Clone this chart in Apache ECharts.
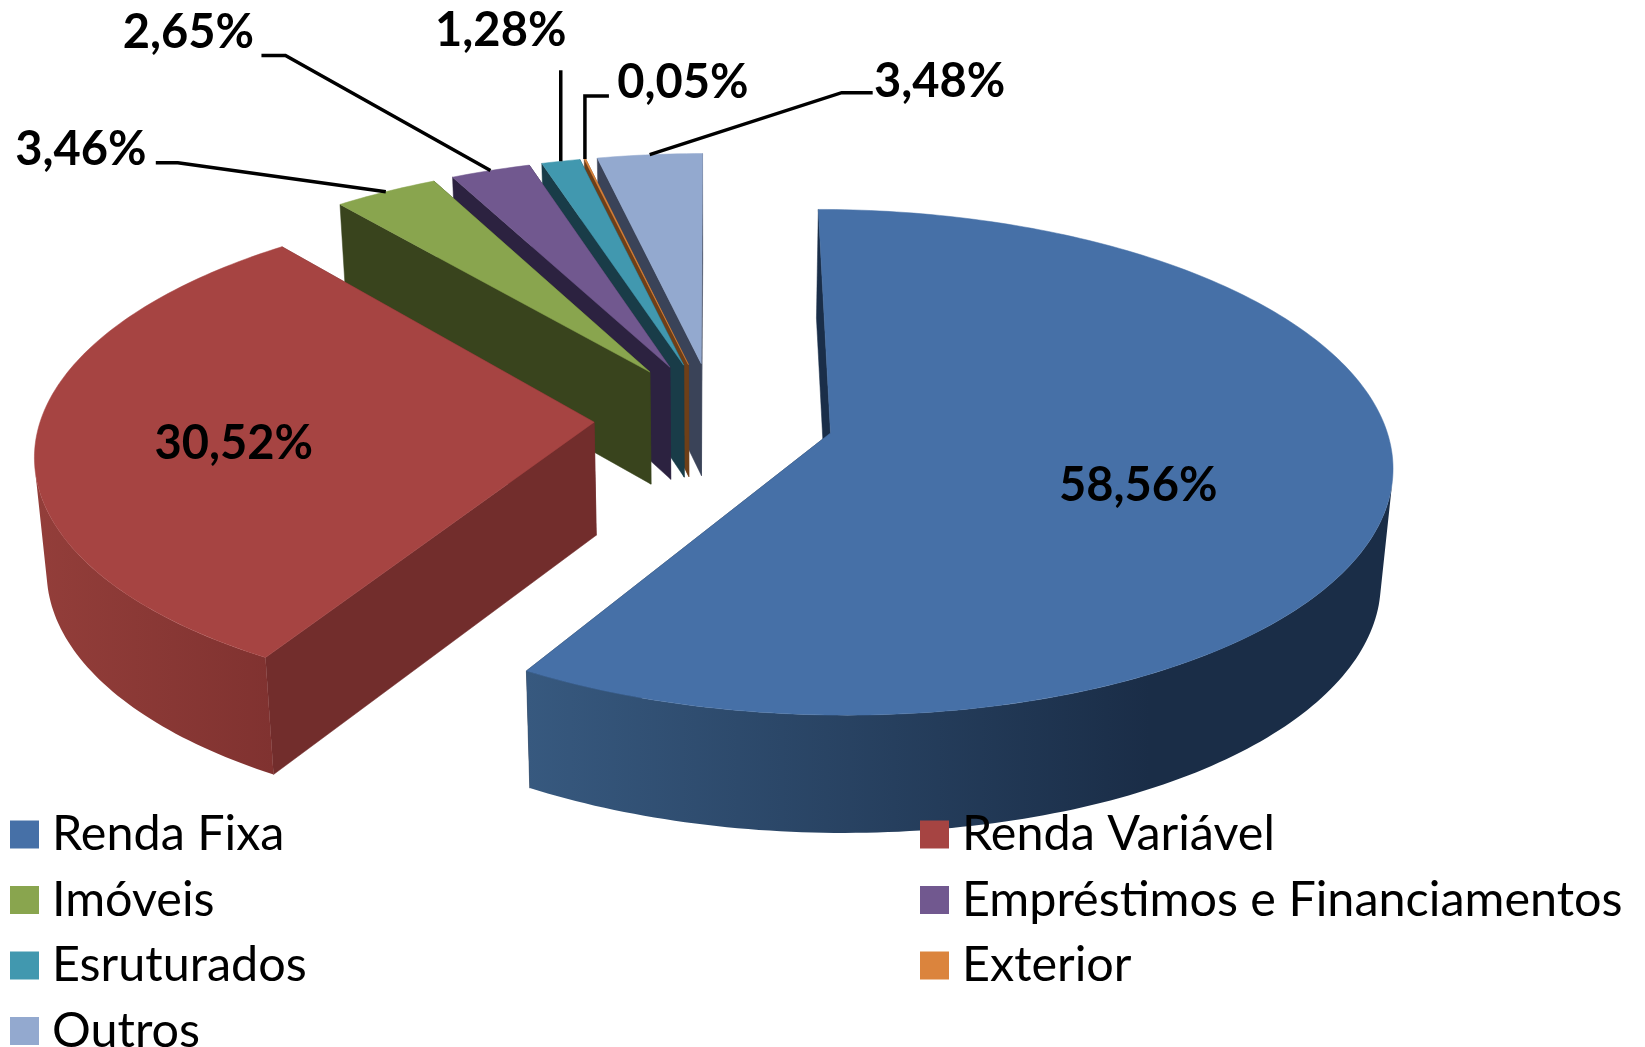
<!DOCTYPE html>
<html><head><meta charset="utf-8">
<style>html,body{margin:0;padding:0;background:#fff}#c{width:1645px;height:1047px}</style>
<script src="https://cdn.jsdelivr.net/npm/echarts@6/dist/echarts.min.js"></script>
</head><body><div id="c"></div>
<script>
const categories = ['Renda Fixa','Renda Variável','Imóveis','Empréstimos e Financiamentos','Esruturados','Exterior','Outros'];
const values = [58.56,30.52,3.46,2.65,1.28,0.05,3.48];
const colors = ['#4670A7','#A64442','#89A54E','#71588F','#4198AF','#DB843D','#93A9CF'];
const wallColors = ['#1A2E49','#722D2C','#39441D','#2C2240','#193C48','#6E3F18','#3A4358'];
const rimStops = [['#37597F','#1A2D47'],['#933E3A','#803230'],null,null,null,null,null];
const paintRank = [6,5,4,3,2,1,0];   // higher paints later
const legendLeft = ['Renda Fixa','Imóveis','Esruturados','Outros'];
const legendRight = ['Renda Variável','Empréstimos e Financiamentos','Exterior'];

// projection of the tilted, exploded pie
const view = {cx:714,cy:418,R:553,Ry:246,px:0.116,py:0.115,depth:113,depthTaper:0.04,bottomScale:0.982,explode:0.217,explodeBack:1.05,wallFrom:101,wallTo:259};
// label placement relative to the slice's outer mid point
const labelLayout = [
  {text:[-250,-16],line:null},
  {text:[198,3],line:null},
  {text:[-305,-42],line:[[-208,-29],[-230,-29]]},
  {text:[-302,-138],line:[[-205,-115],[-229,-115]]},
  {text:[-60,-130],line:[[0,-91]]},
  {text:[98,-76],line:[[0,-63],[24,-63]]},
  {text:[290,-73],line:[[192,-62],[223,-62]]}
];
const total = values.reduce((a,b)=>a+b,0);
const rad = d=>d*Math.PI/180;
function proj(X,Y,low){
  const sx=1/(1+view.px*Y), sy=1/(1+view.py*Y);
  let x=view.R*X*sx, y=-view.Ry*Y*sy;
  if(low){x*=view.bottomScale; y+=view.depth*(1-view.depthTaper*Y);}
  return [view.cx+x, view.cy+y];
}
function arc(a0,a1,ex,ey,low){
  const pts=[], n=Math.max(2,Math.ceil(Math.abs(a1-a0)));
  for(let k=0;k<=n;k++){const t=rad(a0+(a1-a0)*k/n);pts.push(proj(Math.sin(t)+ex,Math.cos(t)+ey,low));}
  return pts;
}
function makeRender(i){
  const startVal=values.slice(0,i).reduce((a,b)=>a+b,0);
  return function(params,api){
    const v=api.value(0);
    const a0=startVal/total*360, a1=(startVal+v)/total*360, mid=(a0+a1)/2;
    const ex=view.explode*Math.sin(rad(mid)), ey=view.explode*Math.cos(rad(mid))*view.explodeBack;
    const kids=[];
    const poly=(points,fill)=>kids.push({type:'polygon',shape:{points},style:{fill,stroke:typeof fill==='string'?fill:null,lineWidth:typeof fill==='string'?0.5:0}});
    const edge=a=>{const t=rad(a);return [proj(Math.sin(t)+ex,Math.cos(t)+ey,false),proj(Math.sin(t)+ex,Math.cos(t)+ey,true)];};
    const ap=proj(ex,ey,false), apL=proj(ex,ey,true);
    [a1,a0].forEach(a=>{const e=edge(a);poly([ap,e[0],e[1],apL],wallColors[i]);});
    const f0=Math.max(a0,view.wallFrom), f1=Math.min(a1,view.wallTo);
    if(f1>f0){
      const up=arc(f0,f1,ex,ey,false), lo=arc(f0,f1,ex,ey,true).reverse();
      const all=up.concat(lo), xs=all.map(p=>p[0]);
      const stops=rimStops[i];
      let fill=wallColors[i];
      if(stops){
        const xa=Math.min(...xs), xb=Math.max(...xs);
        const g = i===0 ? [{offset:0,color:stops[0]},{offset:0.72,color:stops[1]},{offset:1,color:stops[1]}]
                        : [{offset:0,color:stops[0]},{offset:1,color:stops[1]}];
        fill=new echarts.graphic.LinearGradient(xa,0,xb,0,g,true);
      }
      poly(all,fill);
    }
    poly([ap].concat(arc(a0,a1,ex,ey,false)),colors[i]);
    const t=rad(mid), anchor=proj(Math.sin(t)+ex,Math.cos(t)+ey,false), L=labelLayout[i];
    if(L.line){
      const pts=[anchor].concat(L.line.map(o=>[anchor[0]+o[0],anchor[1]+o[1]]));
      kids.push({type:'polyline',shape:{points:pts},style:{stroke:'#000',lineWidth:3.5,fill:null}});
    }
    kids.push({type:'text',style:{text:v.toFixed(2).replace('.',',')+'%',x:anchor[0]+L.text[0],y:anchor[1]+L.text[1],
      align:'center',verticalAlign:'middle',fill:'#000',font:'bold 47px Lato'}});
    return {type:'group',children:kids};
  };
}
const series=categories.map((name,i)=>({
  type:'custom',name,coordinateSystem:'none',animation:false,silent:true,
  z:2+paintRank[i]*0.01+(i<2?0.1:0)+(i===0?0.01:0),
  itemStyle:{color:colors[i]},data:[[values[i]]],renderItem:makeRender(i)
}));
const legendBase={orient:'vertical',top:810,height:300,padding:0,itemWidth:29,itemHeight:28,itemGap:16.5,icon:'rect',z:100,selectedMode:false,
  textStyle:{fontFamily:'Lato',fontSize:48.5,color:'#000',padding:[0,0,0,8]}};
const chart=echarts.init(document.getElementById('c'),null,{renderer:'canvas'});
chart.setOption({backgroundColor:'#fff',animation:false,tooltip:{show:false},
  legend:[Object.assign({},legendBase,{left:10,data:legendLeft}),Object.assign({},legendBase,{left:920,data:legendRight})],
  series});
</script></body></html>
